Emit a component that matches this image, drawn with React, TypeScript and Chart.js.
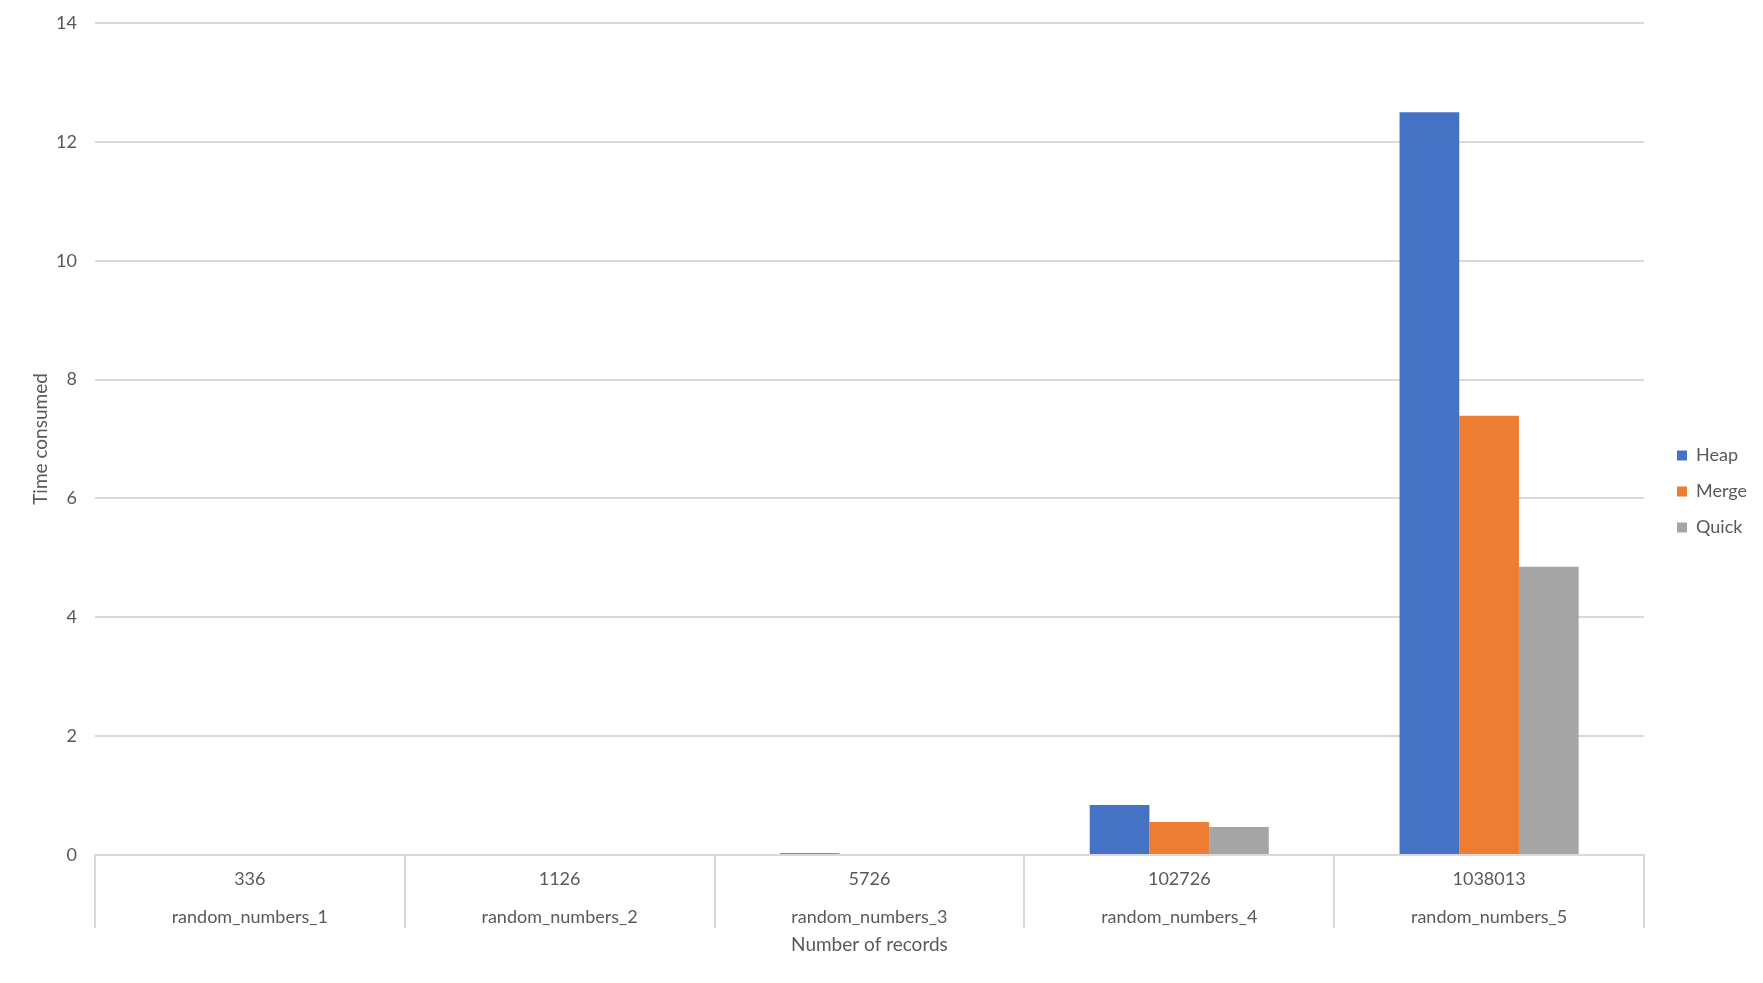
import React, { useEffect, useRef } from "react";
import { Chart, registerables } from "chart.js";

Chart.register(...registerables);

const recordCounts = ["336", "1126", "5726", "102726", "1038013"];
const fileNames = ["random_numbers_1", "random_numbers_2", "random_numbers_3", "random_numbers_4", "random_numbers_5"];
const heapTimes = [0, 0, 0.03, 0.84, 12.5];
const mergeTimes = [0, 0, 0, 0.555, 7.39];
const quickTimes = [0, 0, 0, 0.47, 4.85];
const yTicks = [0, 2, 4, 6, 8, 10, 12, 14];

const FONT = "Lato, 'Open Sans', sans-serif";
const TEXT = "#595959";
const GRID = "#d9d9d9";

export default function App() {
  const ref = useRef<HTMLCanvasElement | null>(null);

  useEffect(() => {
    if (!ref.current) return;
    const labels = recordCounts.map((c, i) => [c, fileNames[i]]);
    const chart = new Chart(ref.current, {
      type: "bar",
      data: {
        labels,
        datasets: [
          { label: "Heap", data: heapTimes, backgroundColor: "#4472C4" },
          { label: "Merge", data: mergeTimes, backgroundColor: "#ED7D31" },
          { label: "Quick", data: quickTimes, backgroundColor: "#A5A5A5" },
        ],
      },
      options: {
        responsive: false,
        animation: false,
        layout: { padding: { left: 29, right: 6, top: 23, bottom: 23 } },
        datasets: {
          bar: { categoryPercentage: 0.578, barPercentage: 1 },
        },
        plugins: {
          tooltip: { enabled: false },
          legend: {
            position: "right",
            labels: {
              boxWidth: 10,
              boxHeight: 10,
              padding: 18,
              color: TEXT,
              font: { family: FONT, size: 18 },
            },
          },
        },
        scales: {
          x: {
            offset: true,
            border: { display: true, color: GRID, width: 2 },
            grid: {
              offset: true,
              drawOnChartArea: false,
              drawTicks: true,
              tickLength: 73,
              color: GRID,
              lineWidth: 2,
            },
            ticks: {
              color: TEXT,
              padding: -68,
              maxRotation: 0,
              autoSkip: false,
              font: { family: FONT, size: 18, lineHeight: 2.1 },
            },
            title: {
              display: true,
              text: "Number of records",
              color: TEXT,
              padding: { top: 65.6, bottom: 4 },
              font: { family: FONT, size: 19 },
            },
          },
          y: {
            min: 0,
            max: 14,
            border: { display: false },
            grid: { color: GRID, lineWidth: 2, drawTicks: false },
            afterBuildTicks: (axis: any) => {
              axis.ticks = yTicks.map((v) => ({ value: v }));
            },
            afterFit: (axis: any) => {
              axis.paddingTop = 0;
              axis.paddingBottom = 0;
            },
            ticks: {
              color: TEXT,
              padding: 18,
              font: { family: FONT, size: 18 },
            },
            title: {
              display: true,
              text: "Time consumed",
              color: TEXT,
              padding: { top: 0, bottom: -13.8 },
              font: { family: FONT, size: 19 },
            },
          },
          gap: {
            type: "linear",
            position: "right",
            display: true,
            grid: { display: false, drawTicks: false },
            border: { display: false },
            ticks: { display: false },
            afterFit: (axis: any) => {
              axis.width = 15;
            },
          },
        },
      },
    });
    return () => chart.destroy();
  }, []);

  return (
    <div style={{ position: "absolute", left: 0, top: 0, width: 1763, height: 983, background: "#fff" }}>
      <canvas ref={ref} width={1763} height={983} style={{ display: "block" }} />
    </div>
  );
}
